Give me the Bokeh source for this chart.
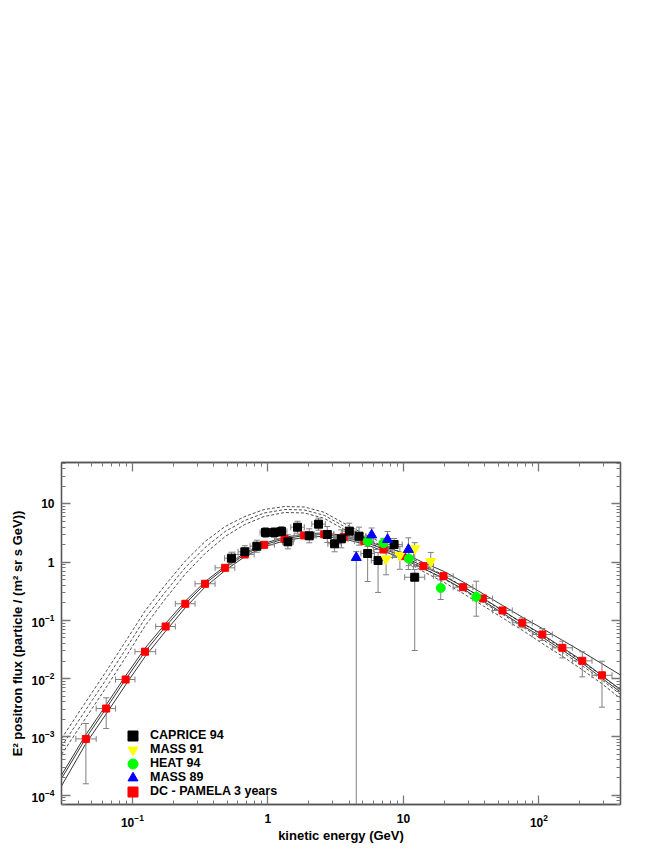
import numpy as np
from bokeh.plotting import figure
from bokeh.models import (ColumnDataSource, LogAxis, FixedTicker, Legend, LegendItem,
                          Range1d, CustomJSTickFormatter, LogTickFormatter)
from bokeh.embed import file_html
from bokeh.resources import INLINE

# ---------------- data ----------------
X_MIN, X_MAX = 0.03, 400.0
Y_MIN, Y_MAX = 6.87e-5, 51.6

# model curves (solid = three propagation models, dashed = three alternative models)
curve_E = [0.03, 0.045, 0.064, 0.089, 0.124, 0.176, 0.246, 0.344, 0.484, 0.676, 0.94, 1.33,
           1.86, 2.6, 3.6, 5.15, 7.1, 9.8, 14, 20, 28, 39, 54, 75, 106, 150, 210, 290, 400]
solid_hi = [2.20e-4, 1.056e-3, 3.51e-3, 0.01108, 0.0333, 0.0887, 0.214, 0.464, 0.856, 1.44,
            2.11, 2.67, 3.05, 3.19, 2.88, 2.38, 1.85, 1.468, 0.988, 0.692, 0.448, 0.2842,
            0.1803, 0.1144, 0.0726, 0.0451, 0.0286, 0.01817, 0.01153]
solid_mid = [1.92e-4, 9.2e-4, 3.06e-3, 9.65e-3, 0.029, 0.0785, 0.193, 0.426, 0.80, 1.36,
             1.99, 2.52, 2.88, 3.01, 2.72, 2.22, 1.70, 1.27, 0.854, 0.575, 0.372, 0.238,
             0.148, 0.091, 0.0573, 0.0338, 0.0202, 0.0114, 6.50e-3]
solid_lo = [1.43e-4, 7.40e-4, 2.46e-3, 7.76e-3, 0.0238, 0.0654, 0.165, 0.374, 0.721, 1.248,
            1.843, 2.333, 2.667, 2.787, 2.519, 2.056, 1.560, 1.155, 0.776, 0.523, 0.338,
            0.2144, 0.1333, 0.0820, 0.0516, 0.0305, 0.0182, 0.01027, 5.86e-3]
dashed_hi = [9.34e-4, 3.88e-3, 0.01324, 0.04336, 0.1451, 0.4138, 1.049, 2.268, 4.108, 6.10,
             8.04, 9.05, 8.88, 7.20, 4.73, 3.04, 2.09, 1.411, 0.913, 0.590, 0.3747, 0.2332,
             0.145, 0.0902, 0.0550, 0.0329, 0.01927, 0.0113, 6.24e-3]
dashed_mid = [6.81e-4, 2.83e-3, 9.65e-3, 0.0316, 0.1078, 0.3137, 0.811, 1.789, 3.37, 5.21,
              7.00, 8.04, 7.89, 6.40, 4.20, 2.70, 1.86, 1.253, 0.795, 0.514, 0.3264, 0.2031,
              0.1263, 0.0786, 0.0470, 0.0281, 0.01646, 9.65e-3, 5.33e-3]
dashed_lo = [4.96e-4, 2.06e-3, 7.03e-3, 0.02303, 0.0801, 0.2378, 0.627, 1.411, 2.765, 4.449,
             6.10, 7.14, 7.01, 5.68, 3.73, 2.40, 1.652, 1.113, 0.6925, 0.4477, 0.2843, 0.1769,
             0.110, 0.0685, 0.0401, 0.0240, 0.01406, 8.24e-3, 4.55e-3]

# DC - PAMELA 3 years (red squares)
pamela_E = [0.0454, 0.0641, 0.0892, 0.124, 0.176, 0.246, 0.344, 0.484, 0.676, 0.939, 1.327,
            1.855, 2.607, 3.62, 5.15, 7.12, 9.83, 14.06, 19.75, 27.6, 38.6, 53.9, 75.4, 106,
            149, 209, 292]
pamela_F = [9.2e-4, 3.06e-3, 9.65e-3, 0.029, 0.0785, 0.193, 0.426, 0.80, 1.36, 1.99, 2.52,
            2.88, 3.01, 2.69, 2.30, 1.65, 1.27, 0.854, 0.575, 0.372, 0.238, 0.148, 0.091,
            0.0573, 0.0338, 0.0202, 0.0114]
pamela_F_hi = [1.69e-3, 4.68e-3, 0.01087, 0.03265, 0.0884, 0.2173, 0.4797, 0.9008, 1.531,
               2.241, 2.838, 3.243, 3.389, 3.029, 2.590, 1.858, 1.430, 0.9616, 0.6475, 0.4189,
               0.268, 0.1666, 0.1109, 0.0727, 0.0439, 0.0289, 0.0199]
pamela_F_lo = [1.56e-4, 1.39e-3, 8.57e-3, 0.02575, 0.0697, 0.1714, 0.3783, 0.7105, 1.208,
               1.767, 2.238, 2.558, 2.673, 2.389, 2.043, 1.465, 1.128, 0.7584, 0.5107, 0.3304,
               0.2114, 0.1314, 0.0747, 0.0452, 0.0227, 0.0107, 3.23e-3]
pamela_bin_edges = [0.0383, 0.0541, 0.0752, 0.1045, 0.1487, 0.2075, 0.2902, 0.4078, 0.5704,
                    0.7920, 1.119, 1.564, 2.199, 3.053, 4.343, 6.002, 8.292, 11.86, 16.66,
                    23.30, 32.52, 45.49, 63.61, 89.39, 125.6, 176.6, 246.5, 346.3]

# CAPRICE 94 (black squares)
caprice_E = [0.538, 0.676, 0.829, 0.960, 1.113, 1.260, 1.405, 1.655, 2.020, 2.366, 2.744,
             3.107, 3.482, 3.990, 4.706, 5.447, 6.502, 8.539, 12.12]
caprice_F = [1.17, 1.51, 1.88, 3.24, 3.24, 3.37, 2.24, 3.99, 2.84, 4.50, 2.99, 2.07, 2.52,
             3.41, 2.80, 1.41, 1.07, 2.01, 0.552]
caprice_F_hi = [1.484, 1.915, 2.384, 3.950, 3.950, 4.108, 2.955, 5.059, 3.746, 5.706, 4.102,
                2.840, 3.599, 4.679, 3.998, 1.860, 1.468, 2.549, 0.749]
caprice_F_lo = [0.923, 1.191, 1.483, 2.658, 2.658, 2.765, 1.698, 3.147, 2.153, 3.549, 2.179,
                1.509, 1.765, 2.485, 1.961, 0.466, 0.302, 1.201, 0.0304]
caprice_dlogE = [0.05, 0.05, 0.05, 0.04, 0.04, 0.04, 0.04, 0.05, 0.05, 0.05, 0.05, 0.05,
                 0.05, 0.05, 0.05, 0.05, 0.05, 0.06, 0.074]

# MASS 91 (yellow inverted triangles)
mass91_E = [7.45, 9.42, 12.12, 15.92]
mass91_F = [1.144, 1.314, 1.706, 1.03]
mass91_F_hi = [1.451, 1.876, 2.163, 1.471]
mass91_F_lo = [0.6075, 0.755, 0.837, 0.751]

# HEAT 94 (green circles)
heat94_E = [5.45, 7.12, 10.98, 18.87, 34.5]
heat94_F = [2.30, 2.11, 1.15, 0.360, 0.254]
heat94_F_hi = [2.804, 2.572, 1.517, 0.494, 0.471]
heat94_F_lo = [1.887, 1.731, 0.872, 0.2284, 0.1179]

# MASS 89 (blue triangles)
mass89_E = [4.49, 5.83, 7.64, 10.89]
mass89_F = [1.20, 2.93, 2.45, 1.65]
mass89_F_hi = [1.52, 3.865, 3.361, 2.622]
mass89_F_lo = [1.0e-5, 2.221, 1.786, 0.748]

legend_labels = ["CAPRICE 94", "MASS 91", "HEAT 94", "MASS 89", "DC - PAMELA 3 years"]

# ---------------- style ----------------
FONT = "Liberation Sans"
ERR = "#808080"
AXIS = "#555555"
TICK = "#777777"

p = figure(width=654, height=850, x_axis_type="log", y_axis_type="log",
           x_range=Range1d(X_MIN, X_MAX), y_range=Range1d(Y_MIN, Y_MAX),
           output_backend="svg", toolbar_location=None,
           min_border_left=61, min_border_right=34, min_border_top=462,
           min_border_bottom=46)
p.grid.visible = False
p.outline_line_color = AXIS
p.outline_line_width = 1.3
p.background_fill_color = "white"
p.border_fill_color = "white"

x_major = [10.0 ** k for k in range(-2, 3)]
x_minor = [m * 10.0 ** k for k in range(-2, 3) for m in range(2, 10)]
y_major = [10.0 ** k for k in range(-5, 2)]
y_minor = [m * 10.0 ** k for k in range(-5, 2) for m in range(2, 10)]


def style_axis(ax, labels):
    if labels:
        ax.formatter = LogTickFormatter(min_exponent=0)
        ax.major_label_overrides = {1: "1", 10: "10"}
        ax.major_label_text_font = FONT
        ax.major_label_text_font_style = "bold"
        ax.major_label_text_font_size = "12px"
        ax.major_label_text_color = "black"
    else:
        ax.formatter = CustomJSTickFormatter(code="return ' '")
        ax.major_label_text_font_size = "1px"
        ax.major_label_standoff = 0
    ax.major_tick_in = 9
    ax.major_tick_out = 0
    ax.minor_tick_in = 4
    ax.minor_tick_out = 0
    ax.axis_line_color = AXIS
    ax.axis_line_width = 1.3
    ax.major_tick_line_color = TICK
    ax.major_tick_line_width = 1.3
    ax.minor_tick_line_color = TICK
    ax.minor_tick_line_width = 1


xb = p.xaxis[0]
xb.ticker = FixedTicker(ticks=x_major, minor_ticks=x_minor)
style_axis(xb, True)
xb.major_label_standoff = 9
xb.axis_label = "kinetic energy (GeV)"
xb.axis_label_text_font = FONT
xb.axis_label_text_font_style = "bold"
xb.axis_label_text_font_size = "13px"
xb.axis_label_text_color = "black"
xb.axis_label_standoff = -2

yl = p.yaxis[0]
yl.ticker = FixedTicker(ticks=y_major, minor_ticks=y_minor)
style_axis(yl, True)
yl.major_label_standoff = 7
yl.axis_label = "E\u00b2 positron flux (particle / (m\u00b2 sr s GeV))"
yl.axis_label_text_font = FONT
yl.axis_label_text_font_style = "bold"
yl.axis_label_text_font_size = "13px"
yl.axis_label_text_color = "black"
yl.axis_label_standoff = 4

xt = LogAxis(ticker=FixedTicker(ticks=x_major, minor_ticks=x_minor))
style_axis(xt, False)
p.add_layout(xt, "above")
yr = LogAxis(ticker=FixedTicker(ticks=y_major, minor_ticks=y_minor))
style_axis(yr, False)
p.add_layout(yr, "right")

# ---------------- curves ----------------
csrc = ColumnDataSource(dict(E=curve_E, s1=solid_hi, s2=solid_mid, s3=solid_lo,
                             d1=dashed_hi, d2=dashed_mid, d3=dashed_lo))
for col in ["d1", "d2", "d3"]:
    p.line("E", col, source=csrc, line_color="#3a3a3a", line_width=0.9, line_dash="3 2")
for col in ["s1", "s2", "s3"]:
    p.line("E", col, source=csrc, line_color="#202020", line_width=0.9)


# ---------------- data with error bars ----------------
def make_src(E, F, F_lo, F_hi, E_lo=None, E_hi=None):
    d = dict(E=E, F=F, F_lo=F_lo, F_hi=F_hi)
    if E_lo is not None:
        d["E_lo"] = E_lo
        d["E_hi"] = E_hi
    return ColumnDataSource(d)


def draw_errors(src, xerr=True):
    p.segment(x0="E", y0="F_lo", x1="E", y1="F_hi", source=src, line_color=ERR, line_width=1)
    p.scatter(x="E", y="F_lo", marker="dash", size=6, source=src, line_color=ERR)
    p.scatter(x="E", y="F_hi", marker="dash", size=6, source=src, line_color=ERR)
    if xerr:
        p.segment(x0="E_lo", y0="F", x1="E_hi", y1="F", source=src, line_color=ERR,
                  line_width=1)
        p.scatter(x="E_lo", y="F", marker="dash", angle=np.pi / 2, size=6, source=src,
                  line_color=ERR)
        p.scatter(x="E_hi", y="F", marker="dash", angle=np.pi / 2, size=6, source=src,
                  line_color=ERR)


pam_src = make_src(pamela_E, pamela_F, pamela_F_lo, pamela_F_hi,
                   pamela_bin_edges[:-1], pamela_bin_edges[1:])
cap_E_lo = [e * 10 ** (-d) for e, d in zip(caprice_E, caprice_dlogE)]
cap_E_hi = [e * 10 ** d for e, d in zip(caprice_E, caprice_dlogE)]
cap_src = make_src(caprice_E, caprice_F, caprice_F_lo, caprice_F_hi, cap_E_lo, cap_E_hi)
m91_src = make_src(mass91_E, mass91_F, mass91_F_lo, mass91_F_hi)
heat_src = make_src(heat94_E, heat94_F, heat94_F_lo, heat94_F_hi)
m89_src = make_src(mass89_E, mass89_F, mass89_F_lo, mass89_F_hi)

draw_errors(pam_src)
draw_errors(cap_src)
draw_errors(m91_src, xerr=False)
draw_errors(heat_src, xerr=False)
draw_errors(m89_src, xerr=False)

r_pam = p.scatter("E", "F", source=pam_src, marker="square", size=7, fill_color="#ff0000",
                  line_color="#ff0000")
r_cap = p.scatter("E", "F", source=cap_src, marker="square", size=8, fill_color="black",
                  line_color="black")
r_m91 = p.scatter("E", "F", source=m91_src, marker="inverted_triangle", size=10,
                  fill_color="#ffff00", line_color="#ffff00")
r_heat = p.scatter("E", "F", source=heat_src, marker="circle", size=9, fill_color="#00ff00",
                   line_color="#00ff00")
r_m89 = p.scatter("E", "F", source=m89_src, marker="triangle", size=10, fill_color="#0000ff",
                  line_color="#0000ff")

# ---------------- legend (one row per Legend, rows 14 px apart) ----------------
legend_renderers = [r_cap, r_m91, r_heat, r_m89, r_pam]
legend_rows_bottom = [56.5, 42.5, 28.5, 14.5, 0.5]
for lab, rend, yb in zip(legend_labels, legend_renderers, legend_rows_bottom):
    lg = Legend(items=[LegendItem(label=lab, renderers=[rend])],
                location=(59, yb), glyph_width=25, glyph_height=25,
                padding=0, margin=0, label_standoff=5,
                label_text_font=FONT, label_text_font_style="bold",
                label_text_font_size="12.5px", label_text_color="black",
                background_fill_alpha=0, border_line_alpha=0)
    p.add_layout(lg)

open("out.html", "w").write(file_html(p, INLINE))
